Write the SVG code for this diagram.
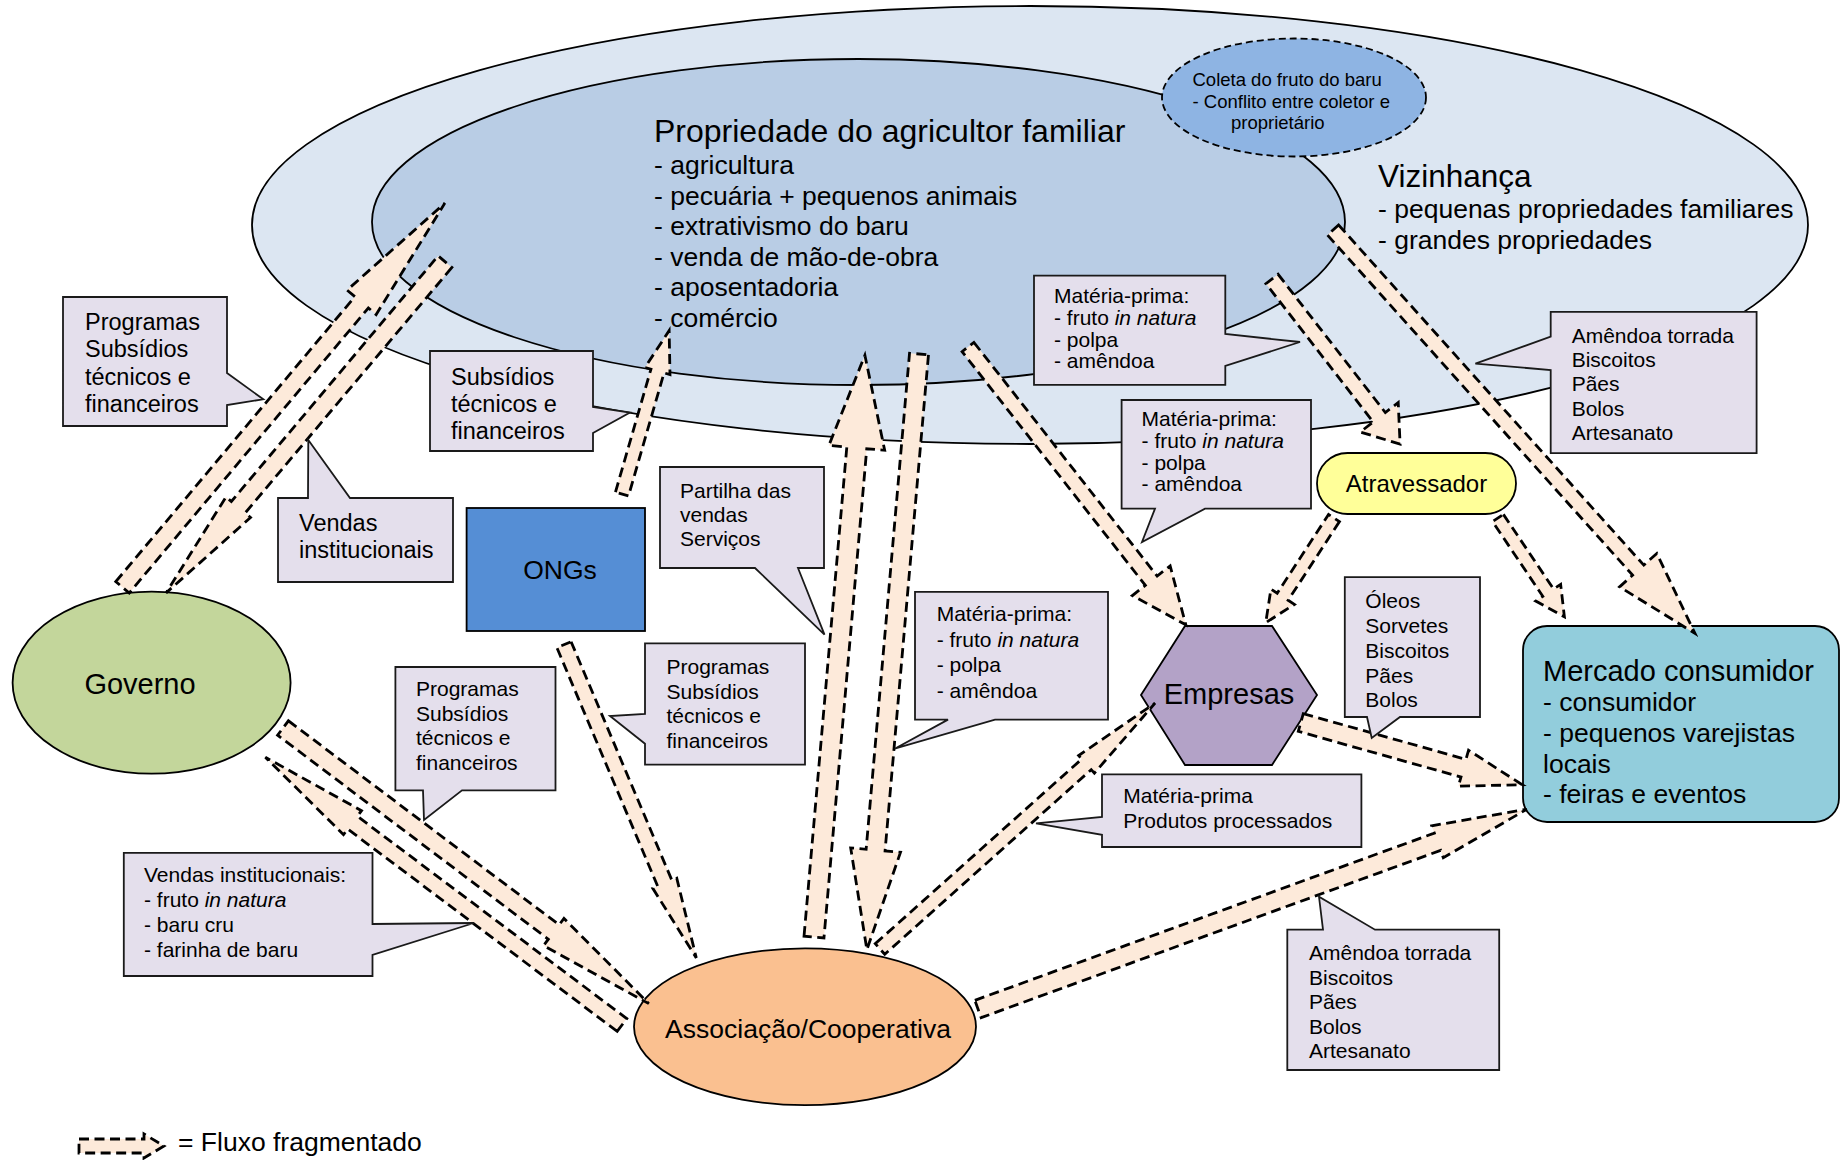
<svg xmlns="http://www.w3.org/2000/svg" width="1841" height="1160" viewBox="0 0 1841 1160">
<style>
text { font-family: "Liberation Sans", Arial, Helvetica, sans-serif; fill: #000; }
.node { stroke: #000; stroke-width: 1.8; }
.arrow { fill: #FDEADA; stroke: #000; stroke-width: 2.8; stroke-dasharray: 10 5.5; stroke-linejoin: miter; }
.callout { fill: #E4DFEC; stroke: #1a1a1a; stroke-width: 1.8; stroke-linejoin: miter; }
.f32 { font-size: 32px; }
.f315 { font-size: 31.5px; }
.f29 { font-size: 29px; }
.f265 { font-size: 26.5px; }
.f24 { font-size: 24px; }
.f235 { font-size: 23.5px; }
.f21 { font-size: 21px; }
.f18 { font-size: 18.5px; }
.it { font-style: italic; }
</style>
<rect width="1841" height="1160" fill="#fff"/>

<g id="vizinhanca">
  <ellipse class="node" cx="1030" cy="225" rx="778" ry="219" fill="#DCE6F2"/>
  <text class="f315" x="1378" y="187">Vizinhança</text>
  <text class="f265"><tspan x="1378" y="218">- pequenas propriedades familiares</tspan><tspan x="1378" y="248.5">- grandes propriedades</tspan></text>
</g>

<g id="propriedade">
  <ellipse class="node" cx="858.5" cy="222" rx="486.5" ry="163" fill="#B9CDE5"/>
  <text class="f32" x="654" y="141.5">Propriedade do agricultor familiar</text>
  <text class="f265"><tspan x="654" y="174">- agricultura</tspan><tspan x="654" y="204.5">- pecuária + pequenos animais</tspan><tspan x="654" y="235">- extrativismo do baru</tspan><tspan x="654" y="265.5">- venda de mão-de-obra</tspan><tspan x="654" y="296">- aposentadoria</tspan><tspan x="654" y="326.5">- comércio</tspan></text>
</g>

<g id="coleta">
  <ellipse cx="1294" cy="97.5" rx="132" ry="59" fill="#8EB4E3" stroke="#000" stroke-width="1.8" stroke-dasharray="7 4"/>
  <text class="f18"><tspan x="1192.5" y="86">Coleta do fruto do baru</tspan><tspan x="1192.5" y="107.7">- Conflito entre coletor e</tspan><tspan x="1231" y="129.3">proprietário</tspan></text>
</g>

<g id="governo">
  <ellipse class="node" cx="151.6" cy="682.7" rx="139" ry="91" fill="#C3D69B"/>
  <text class="f29" x="140" y="694" text-anchor="middle">Governo</text>
</g>

<g id="ongs">
  <rect class="node" x="466.6" y="508" width="178.4" height="123" fill="#558ED5"/>
  <text class="f265" x="560" y="579" text-anchor="middle">ONGs</text>
</g>

<g id="atravessador">
  <rect class="node" x="1317" y="453" width="199" height="61" rx="30.5" ry="30.5" fill="#FFFF99"/>
  <text class="f24" x="1416.5" y="492" text-anchor="middle">Atravessador</text>
</g>

<g id="empresas">
  <polygon class="node" points="1141,695 1185,626 1272,626 1317,695 1272,765 1185,765" fill="#B3A2C7"/>
  <text class="f29" x="1229" y="704" text-anchor="middle">Empresas</text>
</g>

<g id="mercado">
  <rect class="node" x="1523" y="626" width="316" height="196" rx="24" ry="24" fill="#92CDDC"/>
  <text class="f29" x="1543" y="680.5">Mercado consumidor</text>
  <text class="f265"><tspan x="1543" y="711">- consumidor</tspan><tspan x="1543" y="742">- pequenos varejistas</tspan><tspan x="1543" y="772.5">locais</tspan><tspan x="1543" y="803">- feiras e eventos</tspan></text>
</g>

<g id="associacao">
  <ellipse class="node" cx="805" cy="1026.7" rx="171" ry="78.4" fill="#FAC090"/>
  <text class="f265" x="808" y="1038" text-anchor="middle">Associação/Cooperativa</text>
</g>

<g id="connectors">
  <polygon class="arrow" transform="translate(122.5,587.3) rotate(-50)" points="0,-8.8 372,-8.8 372,-19 501.5,0 372,19 372,8.8 0,8.8"/>
  <polygon class="arrow" transform="translate(445,261.7) rotate(130.1)" points="0,-9 321,-9 321,-16 433,0 321,16 321,9 0,9"/>
  <polygon class="arrow" transform="translate(622,494) rotate(-73.9)" points="0,-6.8 128,-6.8 128,-13 170,0 128,13 128,6.8 0,6.8"/>
  <polygon class="arrow" transform="translate(814,937) rotate(-85)" points="0,-10 491,-10 491,-28 584,0 491,28 491,10 0,10"/>
  <polygon class="arrow" transform="translate(919,354) rotate(95)" points="0,-9.5 498,-9.5 498,-25 598,0 498,25 498,9.5 0,9.5"/>
  <polygon class="arrow" transform="translate(968,347) rotate(51.9)" points="0,-7.5 297,-7.5 297,-24 353,0 297,24 297,7.5 0,7.5"/>
  <polygon class="arrow" transform="translate(1272,279) rotate(52.2)" points="0,-7.7 175,-7.7 175,-24 209,0 175,24 175,7.7 0,7.7"/>
  <polygon class="arrow" transform="translate(1333,230) rotate(48.1)" points="0,-7.5 457,-7.5 457,-25 542,0 457,25 457,7.5 0,7.5"/>
  <polygon class="arrow" transform="translate(1334,518) rotate(123.1)" points="0,-6.5 94,-6.5 94,-14 125,0 94,14 94,6.5 0,6.5"/>
  <polygon class="arrow" transform="translate(1498,518) rotate(56.1)" points="0,-6.5 90,-6.5 90,-15 119,0 90,15 90,6.5 0,6.5"/>
  <polygon class="arrow" transform="translate(1300.8,722.5) rotate(15.7)" points="0,-9.2 169,-9.2 169,-18.7 230,0 169,18.7 169,9.2 0,9.2"/>
  <polygon class="arrow" transform="translate(978,1009) rotate(-20)" points="0,-9.2 489,-9.2 489,-17 584,0 489,17 489,9.2 0,9.2"/>
  <polygon class="arrow" transform="translate(880,949) rotate(-41.8)" points="0,-7.1 277,-7.1 277,-11.8 369,0 277,11.8 277,7.1 0,7.1"/>
  <polygon class="arrow" transform="translate(564,644.7) rotate(67.1)" points="0,-7.7 259,-7.7 259,-13 340,0 259,13 259,7.7 0,7.7"/>
  <polygon class="arrow" transform="translate(283,728) rotate(37)" points="0,-9 339,-9 339,-17 458,0 339,17 339,9 0,9"/>
  <polygon class="arrow" transform="translate(622,1025) rotate(-143.1)" points="0,-8 337,-8 337,-15 446,0 337,15 337,8 0,8"/>
</g>

<g id="callout-programas-1">
  <path class="callout" d="M63,297 H227 V373 L263.3,399.3 L227,405 V426 H63 Z"/>
  <text class="f235"><tspan x="85" y="330">Programas</tspan><tspan x="85" y="357">Subsídios</tspan><tspan x="85" y="384.5">técnicos e</tspan><tspan x="85" y="412">financeiros</tspan></text>
</g>
<g id="callout-subsidios">
  <path class="callout" d="M430,351 H593 V407 L630,412.5 L593,433 V451 H430 Z"/>
  <text class="f235"><tspan x="451" y="385">Subsídios</tspan><tspan x="451" y="412">técnicos e</tspan><tspan x="451" y="438.5">financeiros</tspan></text>
</g>
<g id="callout-vendas">
  <path class="callout" d="M278,498 H308 L308.3,440 L350,498 H453 V582 H278 Z"/>
  <text class="f235"><tspan x="299" y="531">Vendas</tspan><tspan x="299" y="558">institucionais</tspan></text>
</g>
<g id="callout-partilha">
  <path class="callout" d="M660,467 H824 V568 H798 L824.5,634.6 L755,568 H660 Z"/>
  <text class="f21"><tspan x="680" y="497.5">Partilha das</tspan><tspan x="680" y="521.5">vendas</tspan><tspan x="680" y="545.5">Serviços</tspan></text>
</g>
<g id="callout-programas-2">
  <path class="callout" d="M645,643.4 H805 V764.7 H645 V743.7 L610,716 L645,714 Z"/>
  <text class="f21"><tspan x="666.5" y="674">Programas</tspan><tspan x="666.5" y="698.5">Subsídios</tspan><tspan x="666.5" y="722.5">técnicos e</tspan><tspan x="666.5" y="747.5">financeiros</tspan></text>
</g>
<g id="callout-programas-3">
  <path class="callout" d="M395.4,667 H555.5 V790.4 H462 L424,820 L423,790.4 H395.4 Z"/>
  <text class="f21"><tspan x="416" y="696">Programas</tspan><tspan x="416" y="720.5">Subsídios</tspan><tspan x="416" y="745">técnicos e</tspan><tspan x="416" y="769.5">financeiros</tspan></text>
</g>
<g id="callout-vendas-inst">
  <path class="callout" d="M123.8,852.8 H372.5 V924 L474,923 L372.5,955 V976 H123.8 Z"/>
  <text class="f21"><tspan x="144" y="881.5">Vendas institucionais:</tspan><tspan x="144" y="906.5">- fruto <tspan class="it">in natura</tspan></tspan><tspan x="144" y="931.5">- baru cru</tspan><tspan x="144" y="957">- farinha de baru</tspan></text>
</g>
<g id="callout-materia-1">
  <path class="callout" d="M1034,275.6 H1225.3 V334 L1300,342 L1225.3,366 V384.8 H1034 Z"/>
  <text class="f21"><tspan x="1054" y="302.5">Matéria-prima:</tspan><tspan x="1054" y="324.5">- fruto <tspan class="it">in natura</tspan></tspan><tspan x="1054" y="346.5">- polpa</tspan><tspan x="1054" y="368">- amêndoa</tspan></text>
</g>
<g id="callout-materia-2">
  <path class="callout" d="M1121.6,400 H1311 V508.7 H1205 L1142,542 L1155,508.7 H1121.6 Z"/>
  <text class="f21"><tspan x="1141.6" y="425.5">Matéria-prima:</tspan><tspan x="1141.6" y="447.5">- fruto <tspan class="it">in natura</tspan></tspan><tspan x="1141.6" y="469.5">- polpa</tspan><tspan x="1141.6" y="490.5">- amêndoa</tspan></text>
</g>
<g id="callout-materia-3">
  <path class="callout" d="M915,591.8 H1108 V719.6 H995 L894.7,748.7 L948,719.6 H915 Z"/>
  <text class="f21"><tspan x="936.7" y="621">Matéria-prima:</tspan><tspan x="936.7" y="646.5">- fruto <tspan class="it">in natura</tspan></tspan><tspan x="936.7" y="672">- polpa</tspan><tspan x="936.7" y="697.5">- amêndoa</tspan></text>
</g>
<g id="callout-produtos-1">
  <path class="callout" d="M1550.7,311.9 H1756.6 V453.2 H1550.7 V370 L1475.4,363.7 L1550.7,336.7 Z"/>
  <text class="f21"><tspan x="1571.7" y="343.3">Amêndoa torrada</tspan><tspan x="1571.7" y="367.4">Biscoitos</tspan><tspan x="1571.7" y="391.4">Pães</tspan><tspan x="1571.7" y="415.5">Bolos</tspan><tspan x="1571.7" y="439.5">Artesanato</tspan></text>
</g>
<g id="callout-oleos">
  <path class="callout" d="M1344.8,577.2 H1480 V717 H1400 L1371.7,738 L1367,717 H1344.8 Z"/>
  <text class="f21"><tspan x="1365.3" y="607.8">Óleos</tspan><tspan x="1365.3" y="632.7">Sorvetes</tspan><tspan x="1365.3" y="657.6">Biscoitos</tspan><tspan x="1365.3" y="682.5">Pães</tspan><tspan x="1365.3" y="706.6">Bolos</tspan></text>
</g>
<g id="callout-materia-produtos">
  <path class="callout" d="M1102,774.3 H1361.4 V847 H1102 V834.8 L1036,823.3 L1102,817 Z"/>
  <text class="f21"><tspan x="1123.3" y="803">Matéria-prima</tspan><tspan x="1123.3" y="828">Produtos processados</tspan></text>
</g>
<g id="callout-produtos-2">
  <path class="callout" d="M1287.3,929.7 H1323 L1319,896.8 L1375,929.7 H1499.2 V1070 H1287.3 Z"/>
  <text class="f21"><tspan x="1309" y="960">Amêndoa torrada</tspan><tspan x="1309" y="984.5">Biscoitos</tspan><tspan x="1309" y="1009">Pães</tspan><tspan x="1309" y="1033.5">Bolos</tspan><tspan x="1309" y="1057.5">Artesanato</tspan></text>
</g>

<g id="legend">
  <polygon class="arrow" transform="translate(79,1146)" points="0,-7 65,-7 65,-12 85,0 65,12 65,7 0,7"/>
  <text class="f265" x="178" y="1151">= Fluxo fragmentado</text>
</g>
</svg>
